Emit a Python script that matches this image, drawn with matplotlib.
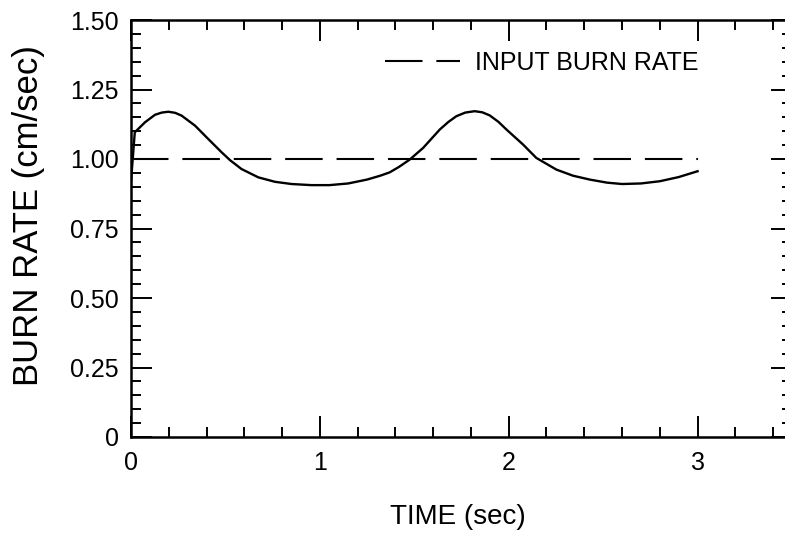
import matplotlib
matplotlib.use("Agg")
import matplotlib.pyplot as plt
from matplotlib.ticker import MultipleLocator, FixedLocator, FixedFormatter

plt.rcParams['font.family'] = ['Liberation Sans', 'DejaVu Sans']
plt.rcParams['lines.scale_dashes'] = False

# Data
time_s = [0.0, 0.02, 0.074, 0.127, 0.163, 0.198, 0.234, 0.268, 0.339, 0.409, 0.48, 0.524,
          0.585, 0.674, 0.762, 0.85, 0.956, 1.05, 1.15, 1.25, 1.32, 1.37,
          1.42, 1.476, 1.547, 1.635, 1.68, 1.723, 1.77, 1.82, 1.86, 1.899, 1.945,
          1.988, 2.076, 2.146, 2.252, 2.34, 2.429, 2.52, 2.6, 2.7, 2.8, 2.9, 3.0]
burn_rate = [0.92, 1.096, 1.132, 1.159, 1.167, 1.170, 1.166, 1.156, 1.120, 1.072, 1.024, 0.996,
             0.964, 0.934, 0.918, 0.910, 0.906, 0.906, 0.912, 0.926, 0.940, 0.952,
             0.972, 0.998, 1.040, 1.106, 1.133, 1.154, 1.167, 1.172, 1.168, 1.157, 1.134,
             1.106, 1.052, 1.004, 0.962, 0.940, 0.926, 0.915, 0.910, 0.912, 0.920, 0.935, 0.956]
input_time = [0.0, 3.0]
input_rate = [1.0, 1.0]

x_ticks = [0, 1, 2, 3]
x_ticklabels = ['0', '1', '2', '3']
y_ticks = [0, 0.25, 0.5, 0.75, 1.0, 1.25, 1.5]
y_ticklabels = ['0', '0.25', '0.50', '0.75', '1.00', '1.25', '1.50']

fig = plt.figure(figsize=(7.85, 5.37), dpi=100)
ax = fig.add_axes([131/785, 100/537, 661/785, 417/537])

ax.plot(time_s, burn_rate, color='black', lw=1.7, solid_joinstyle='round')
ax.plot(input_time, input_rate, color='black', lw=1.5, dashes=(27, 10),
        label='INPUT BURN RATE')

ax.set_xlim(0, 3.5)
ax.set_ylim(0, 1.5)
ax.xaxis.set_major_locator(FixedLocator(x_ticks))
ax.xaxis.set_major_formatter(FixedFormatter(x_ticklabels))
ax.xaxis.set_minor_locator(MultipleLocator(0.2))
ax.yaxis.set_major_locator(FixedLocator(y_ticks))
ax.yaxis.set_major_formatter(FixedFormatter(y_ticklabels))
ax.yaxis.set_minor_locator(MultipleLocator(0.05))

ax.tick_params(which='both', direction='in', top=True, right=True, width=1.4,
               labelsize=18)
ax.tick_params(which='major', length=15)
ax.tick_params(which='minor', length=7)
ax.tick_params(axis='x', which='major', pad=10)
ax.tick_params(axis='y', which='major', pad=9)
for s in ax.spines.values():
    s.set_linewidth(1.8)

ax.set_xlabel('TIME (sec)', fontsize=20)
ax.xaxis.set_label_coords(0.495, -0.16)
ax.set_ylabel('BURN RATE (cm/sec)', fontsize=25)
ax.yaxis.set_label_coords(-0.13, 0.532)

ax.legend(loc='center left', bbox_to_anchor=(0.384, 0.897), frameon=False,
          fontsize=18, handlelength=3.0, handletextpad=0.6, borderpad=0,
          borderaxespad=0)

fig.savefig('out.png', dpi=100)
